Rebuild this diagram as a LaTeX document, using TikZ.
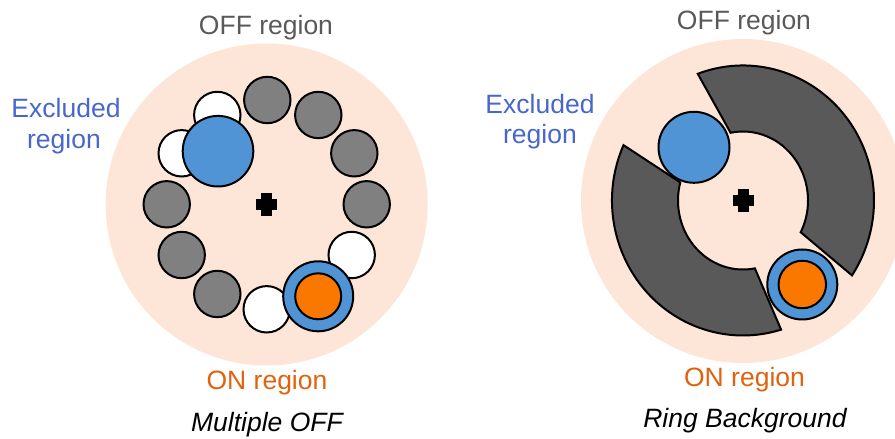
\documentclass[tikz,border=0pt]{standalone}
\usepackage{fontspec}
\setmainfont{Liberation Sans}
\definecolor{peach}{HTML}{FDE5D8}
\definecolor{offgray}{HTML}{808080}
\definecolor{ringgray}{HTML}{595959}
\definecolor{exblue}{HTML}{5094D6}
\definecolor{onorange}{HTML}{FA7800}
\definecolor{txtblue}{HTML}{4866CC}
\definecolor{txtorange}{HTML}{E0620E}
\definecolor{txtgray}{HTML}{595959}
\begin{document}
\begin{tikzpicture}[x=1pt,y=1pt,
  lbl/.style={anchor=base, inner sep=0pt, font=\fontsize{26.5}{30}\selectfont},
  bgdisk/.style={circle, fill=peach, inner sep=0pt},
  disc/.style={circle, draw=black, line width=2pt, inner sep=0pt},
  offc/.style={disc, fill=offgray, minimum size=46.4pt},
  whc/.style={disc, fill=white, minimum size=46.4pt},
  exc/.style={disc, fill=exblue, minimum size=70.6pt},
  onring/.style={disc, fill=exblue, minimum size=70pt},
  oncore/.style={disc, fill=onorange},
  ringseg/.style={draw=black, line width=2pt, fill=ringgray, line join=miter},
]
\useasboundingbox (0,0) rectangle (895,439);

% ---------------- left: Multiple OFF ----------------
\coordinate (c1) at (266.6,234.5);
\node[bgdisk, minimum size=322pt] (bg1) at (c1) {};

\node[offc] (o1)  at (267.3,339) {};
\node[offc] (o2)  at (318.3,324) {};
\node[offc] (o3)  at (354.3,285.7) {};
\node[offc] (o4)  at (366.7,234.7) {};
\node[whc]  (w5)  at (351.7,184) {};
\node[whc]  (w7)  at (266.7,129.7) {};
\node[offc] (o8)  at (217.3,145) {};
\node[offc] (o9)  at (181.7,184) {};
\node[offc] (o10) at (166.7,234.7) {};
\node[whc]  (w11) at (181.7,285.7) {};
\node[whc]  (w12) at (217.3,324) {};

\node[exc] (ex1) at (218,287.8) {};
\node[onring] (onr1) at (318.2,142.7) {};
\node[oncore, minimum size=46pt] (onc1) at (onr1.center) {};

\fill (c1) ++(-10.5,-5.5) rectangle ++(21,11);
\fill (c1) ++(-5.5,-11.5) rectangle ++(11,23);

\node[lbl, text=txtgray] (off1) at (266,404) {OFF region};
\node[lbl, text=txtblue] (exa1) at (66,321.3) {Excluded};
\node[lbl, text=txtblue] (exb1) at (64,290.7) {region};
\node[lbl, text=txtorange] (on1) at (267,49.7) {ON region};
\node[lbl, font=\fontsize{26.5}{30}\selectfont\itshape] (t1) at (267,7.3) {Multiple OFF};

% ---------------- right: Ring Background ----------------
\coordinate (c2) at (743,238.5);
\node[bgdisk, minimum size=324pt] (bg2) at (743,238) {};

\draw[ringseg] ([shift={(c2)}]110.2:131 and 135)
  arc[start angle=110.2, end angle=-33.7, x radius=131, y radius=135]
  -- ([shift={(c2)}]-27.4:65 and 69)
  arc[start angle=-27.4, end angle=101, x radius=65, y radius=69] -- cycle;
\draw[ringseg] ([shift={(c2)}]155.8:131 and 135)
  arc[start angle=155.8, end angle=286.9, x radius=131, y radius=135]
  -- ([shift={(c2)}]280.5:65 and 69)
  arc[start angle=280.5, end angle=164.8, x radius=65, y radius=69] -- cycle;

\node[exc, minimum size=71pt] (ex2) at (694,291.7) {};
\node[onring] (onr2) at (802.3,154.5) {};
\node[oncore, minimum size=47.5pt] (onc2) at (onr2.center) {};

\fill (c2) ++(-10.5,-5.5) rectangle ++(21,11);
\fill (c2) ++(-5.5,-11.5) rectangle ++(11,23);

\node[lbl, text=txtgray] (off2) at (744,409.7) {OFF region};
\node[lbl, text=txtblue] (exa2) at (540,325.7) {Excluded};
\node[lbl, text=txtblue] (exb2) at (540,295) {region};
\node[lbl, text=txtorange] (on2) at (744.5,52.3) {ON region};
\node[lbl, font=\fontsize{26.5}{30}\selectfont\itshape] (t2) at (745,11.3) {Ring Background};
\end{tikzpicture}
\end{document}
